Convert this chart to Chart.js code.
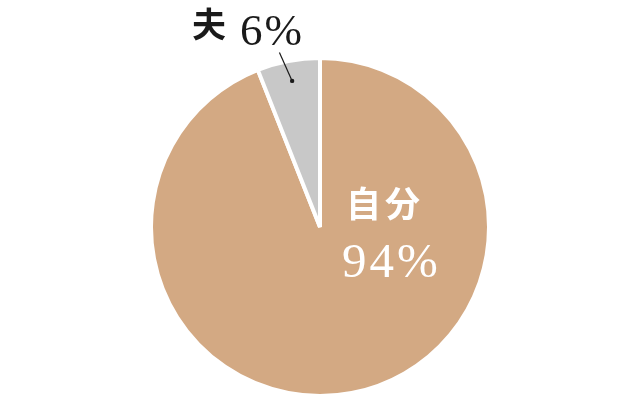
<!DOCTYPE html>
<html>
<head>
<meta charset="utf-8">
<script src="https://cdn.jsdelivr.net/npm/chart.js@4"></script>
<style>
  html, body { margin: 0; padding: 0; background: #fff; }
  #wrap { width: 640px; height: 400px; }
</style>
</head>
<body>
<div id="wrap"><canvas id="myPieChart"></canvas></div>
<script>
const sliceLabels = ["自分", "夫"];
const sliceShares = [94, 6];
const sliceColors = ["#d3a983", "#c8c8c8"];

const SANS = '"Noto Sans CJK JP", "Noto Sans", sans-serif';
const SERIF = '"Liberation Serif", "DejaVu Serif", serif';

// draw the labels next to each slice, placed from the arc geometry
const sliceLabelPlugin = {
  id: "sliceLabels",
  afterDatasetsDraw(chart) {
    const ctx = chart.ctx;
    const arcs = chart.getDatasetMeta(0).data;
    const cx = arcs[0].x;
    const cy = arcs[0].y;
    const R = arcs[0].outerRadius;

    ctx.save();
    ctx.textAlign = "left";
    ctx.textBaseline = "alphabetic";

    // big slice: label inside, white
    ctx.fillStyle = "#ffffff";
    ctx.font = `bold 35px ${SANS}`;
    ctx.letterSpacing = "4px";
    ctx.fillText(sliceLabels[0], cx + 26, cy - 10);
    ctx.font = `49px ${SERIF}`;
    ctx.letterSpacing = "3px";
    ctx.fillText(`${sliceShares[0]}%`, cx + 22, cy + 50);

    // small slice: leader line + dot, label outside
    const small = arcs[1];
    const mid = (small.startAngle + small.endAngle) / 2;
    const dotR = R * 0.88;
    const dx = cx + Math.cos(mid) * dotR;
    const dy = cy + Math.sin(mid) * dotR;
    const ex = cx + Math.cos(mid - 0.04) * (R * 1.06);
    const ey = cy + Math.sin(mid - 0.04) * (R * 1.06);
    ctx.strokeStyle = "#1a1a1a";
    ctx.lineWidth = 1.2;
    ctx.beginPath();
    ctx.moveTo(ex, ey);
    ctx.lineTo(dx, dy);
    ctx.stroke();
    ctx.fillStyle = "#1a1a1a";
    ctx.beginPath();
    ctx.arc(dx, dy, 2.2, 0, Math.PI * 2);
    ctx.fill();

    ctx.fillStyle = "#1a1a1a";
    ctx.letterSpacing = "0px";
    ctx.font = `bold 34px ${SANS}`;
    ctx.fillText(sliceLabels[1], cx - 128, cy - 190);
    ctx.font = `45px ${SERIF}`;
    ctx.letterSpacing = "2px";
    ctx.fillText(`${sliceShares[1]}%`, cx - 80, cy - 182);
    ctx.restore();
  },
};

const config = {
  type: "pie",
  data: {
    labels: sliceLabels,
    datasets: [
      {
        data: sliceShares,
        backgroundColor: sliceColors,
        borderColor: "#ffffff",
        borderWidth: 4,
      },
    ],
  },
  options: {
    responsive: true,
    maintainAspectRatio: false,
    animation: false,
    layout: { padding: { top: 56, bottom: 2, left: 0, right: 0 } },
    plugins: {
      legend: { display: false },
      tooltip: { enabled: false },
    },
  },
  plugins: [sliceLabelPlugin],
};

new Chart(document.getElementById("myPieChart"), config);
</script>
</body>
</html>
